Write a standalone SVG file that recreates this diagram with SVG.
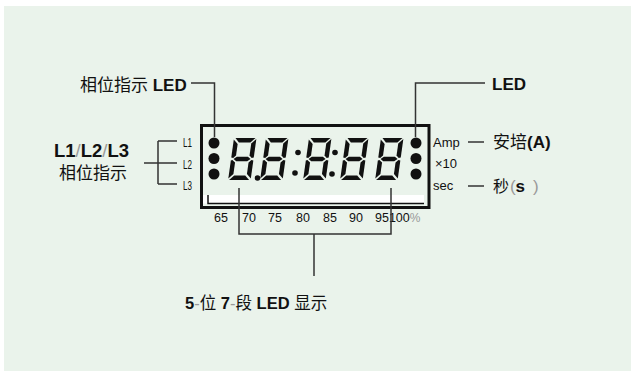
<svg xmlns="http://www.w3.org/2000/svg" width="631" height="371" viewBox="0 0 631 371">
<style>
.t{font-family:"Liberation Sans","Noto Sans CJK SC",sans-serif;fill:#111}
.b{font-weight:bold}
.g{fill:#999;font-weight:normal}
.ln{fill:none;stroke:#333;stroke-width:1.5}
.seg{fill:#111}
.sm{font-size:13px}
.sc{font-size:12.5px}
.lg{font-size:17px}
</style>
<defs>
<g id="d8">
<polygon class="seg" points="1.5,0 21.5,0 17,4.5 5.5,4.5"/>
<polygon class="seg" points="2.5,21 5.5,18.7 16.5,18.7 19.5,21 16.5,23.3 5.5,23.3"/>
<polygon class="seg" points="5.5,37.5 16.5,37.5 21,42 1,42"/>
<polygon class="seg" points="0,1.5 4.5,6 4.5,17.5 2,20 0,19.5"/>
<polygon class="seg" points="22.5,1 22.5,19.5 20.5,20 18,17.5 18,5.5"/>
<polygon class="seg" points="0,22.5 1.5,22 4.5,24.5 4.5,36 0,40.5"/>
<polygon class="seg" points="22.5,22.5 22.5,40.5 18,36 18,24.5 20.5,22"/>
</g>
</defs>
<rect x="0" y="0" width="631" height="371" fill="#fff"/>
<rect x="4" y="6" width="627" height="365" fill="#EAF3EB"/>

<g id="display">
<rect x="201.5" y="125.5" width="227.5" height="82" fill="#EAF3EB" stroke="#111" stroke-width="3"/>
<rect x="203" y="195" width="221" height="8.5" fill="#fff"/>
<path d="M208,195 V203.5 H424" fill="none" stroke="#111" stroke-width="1.5"/>
<circle cx="214" cy="143" r="5.5" fill="#111"/>
<circle cx="214" cy="158.5" r="5.5" fill="#111"/>
<circle cx="214" cy="174" r="5.5" fill="#111"/>
<circle cx="416" cy="143" r="5.5" fill="#111"/>
<circle cx="416" cy="158.5" r="5.5" fill="#111"/>
<circle cx="416" cy="174" r="5.5" fill="#111"/>
<use href="#d8" transform="translate(234,138) skewX(-8)"/>
<circle cx="257.5" cy="178" r="2.8" fill="#111"/>
<use href="#d8" transform="translate(266,138) skewX(-8)"/>
<circle cx="298" cy="152.5" r="2.8" fill="#111"/>
<circle cx="295" cy="173" r="2.8" fill="#111"/>
<use href="#d8" transform="translate(309,138) skewX(-8)"/>
<circle cx="335" cy="152.5" r="2.8" fill="#111"/>
<circle cx="332" cy="174" r="2.8" fill="#111"/>
<use href="#d8" transform="translate(346,138) skewX(-8)"/>
<use href="#d8" transform="translate(381,138) skewX(-8)"/>
</g>

<g id="scale" class="t sc">
<text x="214" y="222">65</text>
<text x="242" y="222">70</text>
<text x="268" y="222">75</text>
<text x="296" y="222">80</text>
<text x="323" y="222">85</text>
<text x="349" y="222">90</text>
<text x="375" y="222">95100<tspan class="g" font-size="12">%</tspan></text>
</g>

<g id="l-tags" class="t sm">
<text x="183" y="147" textLength="9" lengthAdjust="spacingAndGlyphs">L1</text>
<text x="183" y="169" textLength="9" lengthAdjust="spacingAndGlyphs">L2</text>
<text x="183" y="190" textLength="9" lengthAdjust="spacingAndGlyphs">L3</text>
</g>

<g id="unit-tags" class="t sm">
<text x="433" y="147">Amp</text>
<text x="435" y="168">×10</text>
<text x="433" y="190">sec</text>
</g>

<g id="phase-led-label">
<text class="t lg" x="80" y="91">相位指示 <tspan class="b">LED</tspan></text>
</g>

<g id="led-label">
<text class="t lg b" x="492" y="90">LED</text>
</g>

<g id="phase-label" class="t">
<text x="54" y="157" font-size="18.5" class="b">L1<tspan class="g">/</tspan>L2<tspan class="g">/</tspan>L3</text>
<text x="59" y="179" class="lg">相位指示</text>
</g>

<g id="amp-label">
<text class="t lg" x="493" y="148">安培<tspan class="b">(A)</tspan></text>
</g>

<g id="sec-label" class="t">
<text x="493" y="192" font-size="16">秒</text>
<text x="510" y="192" font-size="17" class="g">(</text>
<text x="515.5" y="192" font-size="17" class="b">s</text>
<text x="533" y="192" font-size="17" class="g">)</text>
</g>

<g id="display-label" class="t" font-size="16.5">
<text x="185" y="309"><tspan class="b">5</tspan><tspan class="g">-</tspan>位 <tspan class="b">7</tspan><tspan class="g">-</tspan>段 <tspan class="b">LED</tspan> 显示</text>
</g>

<g id="connectors">
<path class="ln" d="M191,83 H214.5 V137"/>
<path class="ln" d="M485,83 H415.5 V137"/>
<path class="ln" d="M158,141 V184 M158,141 H177 M144,163 H177 M158,184 H177"/>
<path class="ln" d="M468,142 H484"/>
<path class="ln" d="M468,186 H484"/>
<path class="ln" d="M239,188 V234 H391 V188"/>
<path class="ln" d="M314,234 V276"/>
</g>
</svg>
